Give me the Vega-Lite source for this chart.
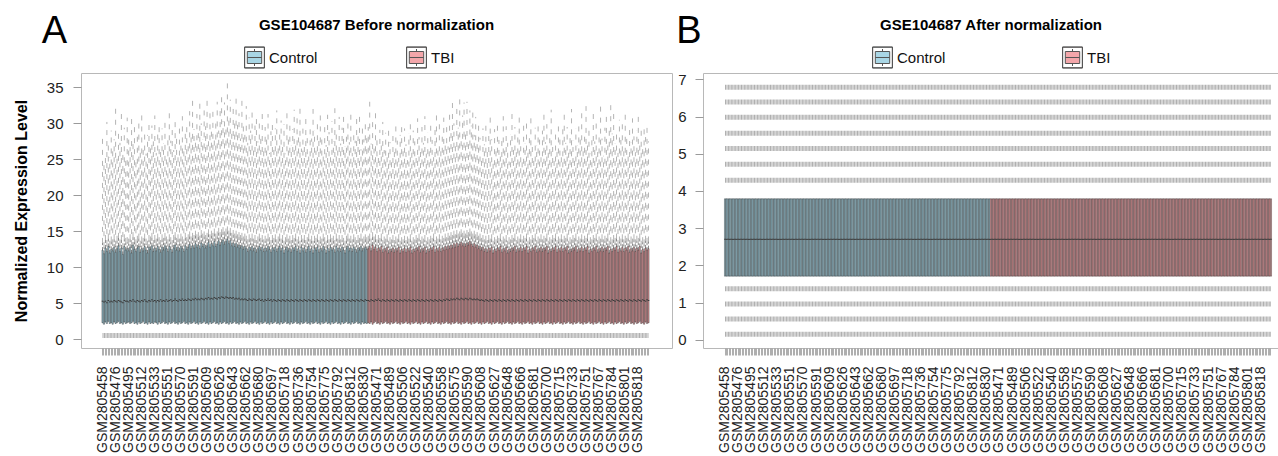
{
"$schema": "https://vega.github.io/schema/vega-lite/v6.json",
"background": "white",
"padding": {"left": 12, "top": 12, "right": 0, "bottom": 0},
"config": {
  "font": "Liberation Sans",
  "view": {"stroke": "#b8b8b8", "strokeWidth": 1},
  "axis": {"grid": false, "domain": false, "tickColor": "#9a9a9a", "labelColor": "#222222", "labelFont": "Liberation Sans", "titleFont": "Liberation Sans"},
  "axisY": {"tickCount": 10, "labelOverlap": false},
  "legend": {"orient": "none", "direction": "horizontal", "title": null, "symbolType": "M-1,-1.05H1V1.05H-1Z M-0.98,-1.03V1.03H0.98V-1.03Z M-0.72,-0.6H0.72V0.6H-0.72Z M-0.72,0H0.72 M0,-0.6V-0.85 M0,0.6V0.85", "symbolSize": 400, "symbolStrokeColor": "#555555", "symbolStrokeWidth": 1, "labelFontSize": 15, "labelColor": "#111111", "labelOffset": 4, "symbolOpacity": 1}
},
"datasets": {
  "bst": [{"g": "Control", "c": 1.71, "n": 2.7, "d": 3.79}, {"g": "TBI", "c": 1.71, "n": 2.7, "d": 3.79}],
  "lvA": [{"s": "GSM2805458", "e": "GSM2805834", "y": 0.55}],
  "lvB": [
    {"s": "GSM2805458", "e": "GSM2805834", "y": 0.15},
    {"s": "GSM2805458", "e": "GSM2805834", "y": 0.56},
    {"s": "GSM2805458", "e": "GSM2805834", "y": 0.96},
    {"s": "GSM2805458", "e": "GSM2805834", "y": 1.37},
    {"s": "GSM2805458", "e": "GSM2805834", "y": 4.29},
    {"s": "GSM2805458", "e": "GSM2805834", "y": 4.72},
    {"s": "GSM2805458", "e": "GSM2805834", "y": 5.14},
    {"s": "GSM2805458", "e": "GSM2805834", "y": 5.55},
    {"s": "GSM2805458", "e": "GSM2805834", "y": 5.98},
    {"s": "GSM2805458", "e": "GSM2805834", "y": 6.39},
    {"s": "GSM2805458", "e": "GSM2805834", "y": 6.79}
  ],
  "main": [
{"s":"GSM2805458","g":"Control","a":2.3,"m":5.3,"b":12.4,"u":13.4,"o":28.0},
{"s":"GSM2805460","g":"Control","a":2.1,"m":5.2,"b":11.9,"u":12.8,"o":24.5},
{"s":"GSM2805462","g":"Control","a":2.4,"m":5.3,"b":12.7,"u":13.8,"o":26.0},
{"s":"GSM2805464","g":"Control","a":2.2,"m":5.1,"b":12.2,"u":13.1,"o":30.2},
{"s":"GSM2805466","g":"Control","a":2.5,"m":5.4,"b":12.9,"u":14.0,"o":27.1},
{"s":"GSM2805468","g":"Control","a":2.2,"m":5.2,"b":12.0,"u":13.0,"o":25.3},
{"s":"GSM2805470","g":"Control","a":2.3,"m":5.3,"b":12.5,"u":13.6,"o":29.0},
{"s":"GSM2805472","g":"Control","a":2.1,"m":5.2,"b":12.3,"u":13.2,"o":26.4},
{"s":"GSM2805474","g":"Control","a":2.4,"m":5.4,"b":12.8,"u":13.9,"o":27.8},
{"s":"GSM2805476","g":"Control","a":2.2,"m":5.3,"b":12.1,"u":13.0,"o":32.3},
{"s":"GSM2805477","g":"Control","a":2.3,"m":5.2,"b":12.6,"u":13.7,"o":25.6},
{"s":"GSM2805479","g":"Control","a":2.5,"m":5.4,"b":13.0,"u":14.1,"o":28.9},
{"s":"GSM2805481","g":"Control","a":2.2,"m":5.3,"b":12.2,"u":13.2,"o":27.3},
{"s":"GSM2805483","g":"Control","a":2.3,"m":5.2,"b":12.7,"u":13.8,"o":31.6},
{"s":"GSM2805485","g":"Control","a":2.1,"m":5.1,"b":11.8,"u":12.7,"o":26.0},
{"s":"GSM2805487","g":"Control","a":2.4,"m":5.4,"b":12.9,"u":13.9,"o":29.4},
{"s":"GSM2805491","g":"Control","a":2.2,"m":5.3,"b":12.4,"u":13.4,"o":25.1},
{"s":"GSM2805493","g":"Control","a":2.3,"m":5.3,"b":12.6,"u":13.5,"o":30.8},
{"s":"GSM2805495","g":"Control","a":2.4,"m":5.2,"b":12.3,"u":13.3,"o":28.2},
{"s":"GSM2805496","g":"Control","a":2.2,"m":5.4,"b":12.8,"u":13.9,"o":26.7},
{"s":"GSM2805498","g":"Control","a":2.3,"m":5.3,"b":12.0,"u":13.1,"o":31.2},
{"s":"GSM2805500","g":"Control","a":2.5,"m":5.5,"b":13.1,"u":14.2,"o":27.9},
{"s":"GSM2805502","g":"Control","a":2.2,"m":5.3,"b":12.5,"u":13.5,"o":29.8},
{"s":"GSM2805504","g":"Control","a":2.3,"m":5.2,"b":12.2,"u":13.2,"o":25.4},
{"s":"GSM2805507","g":"Control","a":2.1,"m":5.4,"b":12.7,"u":13.7,"o":28.6},
{"s":"GSM2805509","g":"Control","a":2.4,"m":5.3,"b":12.9,"u":14.0,"o":30.3},
{"s":"GSM2805511","g":"Control","a":2.2,"m":5.2,"b":12.1,"u":13.0,"o":26.2},
{"s":"GSM2805512","g":"Control","a":2.3,"m":5.4,"b":12.6,"u":13.6,"o":31.8},
{"s":"GSM2805514","g":"Control","a":2.5,"m":5.3,"b":12.3,"u":13.4,"o":27.0},
{"s":"GSM2805517","g":"Control","a":2.2,"m":5.5,"b":12.9,"u":14.0,"o":29.1},
{"s":"GSM2805520","g":"Control","a":2.3,"m":5.3,"b":12.4,"u":13.3,"o":25.8},
{"s":"GSM2805523","g":"Control","a":2.1,"m":5.2,"b":12.0,"u":13.0,"o":28.4},
{"s":"GSM2805525","g":"Control","a":2.4,"m":5.4,"b":12.8,"u":13.8,"o":30.6},
{"s":"GSM2805527","g":"Control","a":2.2,"m":5.3,"b":12.5,"u":13.6,"o":26.9},
{"s":"GSM2805529","g":"Control","a":2.3,"m":5.5,"b":13.0,"u":14.1,"o":29.7},
{"s":"GSM2805531","g":"Control","a":2.2,"m":5.3,"b":12.2,"u":13.1,"o":27.5},
{"s":"GSM2805533","g":"Control","a":2.4,"m":5.4,"b":12.7,"u":13.8,"o":31.1},
{"s":"GSM2805534","g":"Control","a":2.3,"m":5.2,"b":12.3,"u":13.3,"o":25.9},
{"s":"GSM2805536","g":"Control","a":2.1,"m":5.4,"b":12.9,"u":14.0,"o":28.8},
{"s":"GSM2805538","g":"Control","a":2.4,"m":5.3,"b":12.5,"u":13.5,"o":30.1},
{"s":"GSM2805541","g":"Control","a":2.2,"m":5.5,"b":12.1,"u":13.1,"o":26.5},
{"s":"GSM2805543","g":"Control","a":2.3,"m":5.3,"b":12.8,"u":13.9,"o":29.3},
{"s":"GSM2805545","g":"Control","a":2.5,"m":5.4,"b":12.4,"u":13.4,"o":27.2},
{"s":"GSM2805547","g":"Control","a":2.2,"m":5.3,"b":13.0,"u":14.1,"o":30.9},
{"s":"GSM2805549","g":"Control","a":2.3,"m":5.5,"b":12.6,"u":13.6,"o":25.7},
{"s":"GSM2805551","g":"Control","a":2.1,"m":5.3,"b":12.2,"u":13.2,"o":28.1},
{"s":"GSM2805552","g":"Control","a":2.4,"m":5.4,"b":12.9,"u":13.9,"o":31.4},
{"s":"GSM2805554","g":"Control","a":2.2,"m":5.5,"b":12.5,"u":13.5,"o":27.6},
{"s":"GSM2805556","g":"Control","a":2.3,"m":5.3,"b":12.1,"u":13.1,"o":29.5},
{"s":"GSM2805560","g":"Control","a":2.5,"m":5.4,"b":12.7,"u":13.8,"o":26.3},
{"s":"GSM2805562","g":"Control","a":2.2,"m":5.6,"b":13.1,"u":14.2,"o":30.4},
{"s":"GSM2805564","g":"Control","a":2.3,"m":5.4,"b":12.4,"u":13.4,"o":28.0},
{"s":"GSM2805566","g":"Control","a":2.1,"m":5.3,"b":12.8,"u":13.9,"o":25.6},
{"s":"GSM2805568","g":"Control","a":2.4,"m":5.5,"b":12.3,"u":13.3,"o":29.9},
{"s":"GSM2805570","g":"Control","a":2.2,"m":5.4,"b":12.9,"u":14.0,"o":27.4},
{"s":"GSM2805571","g":"Control","a":2.3,"m":5.6,"b":12.6,"u":13.6,"o":31.0},
{"s":"GSM2805573","g":"Control","a":2.5,"m":5.4,"b":12.2,"u":13.2,"o":26.8},
{"s":"GSM2805577","g":"Control","a":2.2,"m":5.5,"b":13.0,"u":14.1,"o":28.7},
{"s":"GSM2805579","g":"Control","a":2.3,"m":5.4,"b":12.5,"u":13.5,"o":30.2},
{"s":"GSM2805582","g":"Control","a":2.1,"m":5.6,"b":12.8,"u":13.9,"o":27.1},
{"s":"GSM2805584","g":"Control","a":2.4,"m":5.5,"b":13.2,"u":14.3,"o":31.7},
{"s":"GSM2805586","g":"Control","a":2.2,"m":5.4,"b":12.6,"u":13.6,"o":28.5},
{"s":"GSM2805588","g":"Control","a":2.3,"m":5.6,"b":13.0,"u":14.1,"o":33.4},
{"s":"GSM2805591","g":"Control","a":2.5,"m":5.5,"b":12.7,"u":13.8,"o":29.2},
{"s":"GSM2805592","g":"Control","a":2.2,"m":5.7,"b":13.3,"u":14.4,"o":27.7},
{"s":"GSM2805594","g":"Control","a":2.3,"m":5.5,"b":12.8,"u":13.9,"o":31.3},
{"s":"GSM2805596","g":"Control","a":2.1,"m":5.6,"b":13.1,"u":14.2,"o":28.9},
{"s":"GSM2805598","g":"Control","a":2.4,"m":5.5,"b":12.6,"u":13.7,"o":33.1},
{"s":"GSM2805600","g":"Control","a":2.2,"m":5.7,"b":13.4,"u":14.5,"o":30.0},
{"s":"GSM2805602","g":"Control","a":2.3,"m":5.6,"b":12.9,"u":14.0,"o":27.8},
{"s":"GSM2805604","g":"Control","a":2.5,"m":5.5,"b":13.2,"u":14.3,"o":32.6},
{"s":"GSM2805606","g":"Control","a":2.2,"m":5.7,"b":12.7,"u":13.8,"o":29.6},
{"s":"GSM2805609","g":"Control","a":2.3,"m":5.6,"b":13.0,"u":14.1,"o":33.6},
{"s":"GSM2805610","g":"Control","a":2.1,"m":5.8,"b":13.5,"u":14.6,"o":28.3},
{"s":"GSM2805612","g":"Control","a":2.4,"m":5.6,"b":12.8,"u":13.9,"o":31.5},
{"s":"GSM2805614","g":"Control","a":2.2,"m":5.7,"b":13.3,"u":14.4,"o":29.4},
{"s":"GSM2805616","g":"Control","a":2.3,"m":5.6,"b":13.0,"u":14.1,"o":32.2},
{"s":"GSM2805618","g":"Control","a":2.5,"m":5.8,"b":13.6,"u":14.7,"o":28.1},
{"s":"GSM2805620","g":"Control","a":2.2,"m":5.7,"b":12.9,"u":14.0,"o":30.7},
{"s":"GSM2805622","g":"Control","a":2.3,"m":5.6,"b":13.2,"u":14.3,"o":33.0},
{"s":"GSM2805624","g":"Control","a":2.1,"m":5.8,"b":13.7,"u":14.8,"o":29.0},
{"s":"GSM2805626","g":"Control","a":2.4,"m":5.7,"b":13.1,"u":14.2,"o":31.9},
{"s":"GSM2805628","g":"Control","a":2.2,"m":5.9,"b":13.5,"u":14.6,"o":33.8},
{"s":"GSM2805630","g":"Control","a":2.3,"m":5.8,"b":13.8,"u":14.9,"o":30.3},
{"s":"GSM2805632","g":"Control","a":2.5,"m":5.7,"b":13.2,"u":14.3,"o":32.9},
{"s":"GSM2805634","g":"Control","a":2.2,"m":5.9,"b":13.6,"u":14.7,"o":29.3},
{"s":"GSM2805636","g":"Control","a":2.3,"m":5.8,"b":13.9,"u":15.0,"o":35.6},
{"s":"GSM2805638","g":"Control","a":2.1,"m":5.7,"b":13.3,"u":14.4,"o":31.2},
{"s":"GSM2805640","g":"Control","a":2.4,"m":5.8,"b":13.7,"u":14.8,"o":33.3},
{"s":"GSM2805642","g":"Control","a":2.2,"m":5.7,"b":13.0,"u":14.1,"o":28.6},
{"s":"GSM2805643","g":"Control","a":2.3,"m":5.8,"b":13.4,"u":14.5,"o":32.5},
{"s":"GSM2805644","g":"Control","a":2.5,"m":5.6,"b":12.9,"u":14.0,"o":30.5},
{"s":"GSM2805645","g":"Control","a":2.2,"m":5.7,"b":13.3,"u":14.4,"o":34.0},
{"s":"GSM2805647","g":"Control","a":2.3,"m":5.6,"b":12.8,"u":13.9,"o":29.8},
{"s":"GSM2805650","g":"Control","a":2.1,"m":5.7,"b":13.1,"u":14.2,"o":31.4},
{"s":"GSM2805653","g":"Control","a":2.4,"m":5.5,"b":12.7,"u":13.8,"o":27.9},
{"s":"GSM2805655","g":"Control","a":2.2,"m":5.6,"b":13.0,"u":14.1,"o":33.2},
{"s":"GSM2805657","g":"Control","a":2.3,"m":5.5,"b":12.5,"u":13.6,"o":30.1},
{"s":"GSM2805660","g":"Control","a":2.5,"m":5.6,"b":12.9,"u":14.0,"o":28.4},
{"s":"GSM2805662","g":"Control","a":2.2,"m":5.5,"b":12.6,"u":13.7,"o":32.4},
{"s":"GSM2805663","g":"Control","a":2.3,"m":5.4,"b":12.2,"u":13.2,"o":27.3},
{"s":"GSM2805664","g":"Control","a":2.1,"m":5.6,"b":12.8,"u":13.9,"o":30.8},
{"s":"GSM2805665","g":"Control","a":2.4,"m":5.5,"b":12.4,"u":13.4,"o":29.0},
{"s":"GSM2805668","g":"Control","a":2.2,"m":5.4,"b":12.9,"u":14.0,"o":31.9},
{"s":"GSM2805671","g":"Control","a":2.3,"m":5.6,"b":12.3,"u":13.3,"o":26.7},
{"s":"GSM2805673","g":"Control","a":2.5,"m":5.5,"b":12.7,"u":13.8,"o":29.7},
{"s":"GSM2805675","g":"Control","a":2.2,"m":5.4,"b":12.1,"u":13.1,"o":31.1},
{"s":"GSM2805678","g":"Control","a":2.3,"m":5.5,"b":12.6,"u":13.6,"o":27.5},
{"s":"GSM2805680","g":"Control","a":2.1,"m":5.6,"b":12.9,"u":14.0,"o":30.0},
{"s":"GSM2805682","g":"Control","a":2.4,"m":5.4,"b":12.4,"u":13.4,"o":28.2},
{"s":"GSM2805684","g":"Control","a":2.2,"m":5.5,"b":12.8,"u":13.8,"o":31.6},
{"s":"GSM2805686","g":"Control","a":2.3,"m":5.3,"b":12.2,"u":13.2,"o":26.4},
{"s":"GSM2805688","g":"Control","a":2.5,"m":5.5,"b":12.7,"u":13.7,"o":29.5},
{"s":"GSM2805690","g":"Control","a":2.2,"m":5.4,"b":12.3,"u":13.3,"o":27.8},
{"s":"GSM2805692","g":"Control","a":2.3,"m":5.6,"b":12.9,"u":14.0,"o":31.3},
{"s":"GSM2805694","g":"Control","a":2.1,"m":5.4,"b":12.5,"u":13.5,"o":25.9},
{"s":"GSM2805696","g":"Control","a":2.4,"m":5.5,"b":12.1,"u":13.1,"o":28.9},
{"s":"GSM2805697","g":"Control","a":2.2,"m":5.3,"b":12.7,"u":13.8,"o":30.6},
{"s":"GSM2805698","g":"Control","a":2.3,"m":5.5,"b":12.4,"u":13.4,"o":27.1},
{"s":"GSM2805702","g":"Control","a":2.5,"m":5.4,"b":12.8,"u":13.9,"o":29.3},
{"s":"GSM2805704","g":"Control","a":2.2,"m":5.3,"b":12.2,"u":13.2,"o":31.8},
{"s":"GSM2805706","g":"Control","a":2.3,"m":5.5,"b":12.6,"u":13.6,"o":26.6},
{"s":"GSM2805708","g":"Control","a":2.1,"m":5.4,"b":12.9,"u":14.0,"o":28.7},
{"s":"GSM2805710","g":"Control","a":2.4,"m":5.3,"b":12.3,"u":13.3,"o":30.4},
{"s":"GSM2805712","g":"Control","a":2.2,"m":5.5,"b":12.7,"u":13.8,"o":27.4},
{"s":"GSM2805716","g":"Control","a":2.3,"m":5.4,"b":12.0,"u":13.0,"o":29.9},
{"s":"GSM2805718","g":"Control","a":2.5,"m":5.3,"b":12.5,"u":13.5,"o":25.8},
{"s":"GSM2805719","g":"Control","a":2.2,"m":5.5,"b":12.8,"u":13.9,"o":31.5},
{"s":"GSM2805721","g":"Control","a":2.3,"m":5.4,"b":12.3,"u":13.3,"o":28.0},
{"s":"GSM2805723","g":"Control","a":2.1,"m":5.3,"b":12.6,"u":13.7,"o":30.2},
{"s":"GSM2805725","g":"Control","a":2.4,"m":5.5,"b":12.1,"u":13.1,"o":26.9},
{"s":"GSM2805727","g":"Control","a":2.2,"m":5.4,"b":12.7,"u":13.8,"o":29.2},
{"s":"GSM2805729","g":"Control","a":2.3,"m":5.3,"b":12.4,"u":13.4,"o":31.9},
{"s":"GSM2805731","g":"Control","a":2.5,"m":5.5,"b":12.9,"u":14.0,"o":27.6},
{"s":"GSM2805734","g":"Control","a":2.2,"m":5.4,"b":12.2,"u":13.2,"o":30.7},
{"s":"GSM2805736","g":"Control","a":2.3,"m":5.3,"b":12.6,"u":13.6,"o":28.3},
{"s":"GSM2805737","g":"Control","a":2.1,"m":5.5,"b":12.0,"u":13.0,"o":32.3},
{"s":"GSM2805739","g":"Control","a":2.4,"m":5.4,"b":12.8,"u":13.8,"o":26.5},
{"s":"GSM2805741","g":"Control","a":2.2,"m":5.3,"b":12.3,"u":13.3,"o":29.6},
{"s":"GSM2805743","g":"Control","a":2.3,"m":5.5,"b":12.7,"u":13.8,"o":27.3},
{"s":"GSM2805745","g":"Control","a":2.5,"m":5.4,"b":12.1,"u":13.1,"o":31.0},
{"s":"GSM2805747","g":"Control","a":2.2,"m":5.3,"b":12.5,"u":13.5,"o":28.6},
{"s":"GSM2805749","g":"Control","a":2.3,"m":5.5,"b":12.9,"u":14.0,"o":25.7},
{"s":"GSM2805752","g":"Control","a":2.1,"m":5.4,"b":12.2,"u":13.2,"o":30.0},
{"s":"GSM2805754","g":"Control","a":2.4,"m":5.3,"b":12.6,"u":13.7,"o":27.9},
{"s":"GSM2805756","g":"Control","a":2.2,"m":5.5,"b":12.0,"u":13.0,"o":32.0},
{"s":"GSM2805758","g":"Control","a":2.3,"m":5.4,"b":12.7,"u":13.7,"o":29.0},
{"s":"GSM2805760","g":"Control","a":2.5,"m":5.3,"b":12.4,"u":13.4,"o":26.2},
{"s":"GSM2805762","g":"Control","a":2.2,"m":5.5,"b":12.8,"u":13.9,"o":30.5},
{"s":"GSM2805764","g":"Control","a":2.3,"m":5.4,"b":12.1,"u":13.1,"o":27.7},
{"s":"GSM2805769","g":"Control","a":2.1,"m":5.3,"b":12.6,"u":13.6,"o":31.4},
{"s":"GSM2805771","g":"Control","a":2.4,"m":5.5,"b":12.3,"u":13.3,"o":28.4},
{"s":"GSM2805773","g":"Control","a":2.2,"m":5.4,"b":12.9,"u":14.0,"o":25.5},
{"s":"GSM2805775","g":"Control","a":2.3,"m":5.3,"b":12.5,"u":13.5,"o":29.8},
{"s":"GSM2805776","g":"Control","a":2.5,"m":5.5,"b":12.0,"u":13.0,"o":27.0},
{"s":"GSM2805778","g":"Control","a":2.2,"m":5.4,"b":12.7,"u":13.8,"o":31.2},
{"s":"GSM2805780","g":"Control","a":2.3,"m":5.3,"b":12.2,"u":13.2,"o":28.8},
{"s":"GSM2805782","g":"Control","a":2.1,"m":5.5,"b":12.8,"u":13.9,"o":26.1},
{"s":"GSM2805785","g":"Control","a":2.4,"m":5.4,"b":12.4,"u":13.4,"o":30.3},
{"s":"GSM2805787","g":"Control","a":2.2,"m":5.3,"b":12.6,"u":13.7,"o":27.5},
{"s":"GSM2805789","g":"Control","a":2.3,"m":5.5,"b":12.1,"u":13.1,"o":32.1},
{"s":"GSM2805791","g":"Control","a":2.5,"m":5.4,"b":12.9,"u":14.0,"o":28.9},
{"s":"GSM2805792","g":"Control","a":2.2,"m":5.3,"b":12.3,"u":13.3,"o":26.6},
{"s":"GSM2805794","g":"Control","a":2.3,"m":5.5,"b":12.7,"u":13.8,"o":30.9},
{"s":"GSM2805797","g":"Control","a":2.1,"m":5.4,"b":12.2,"u":13.2,"o":27.2},
{"s":"GSM2805799","g":"Control","a":2.4,"m":5.3,"b":12.8,"u":13.8,"o":29.4},
{"s":"GSM2805802","g":"Control","a":2.2,"m":5.5,"b":12.4,"u":13.4,"o":31.6},
{"s":"GSM2805804","g":"Control","a":2.3,"m":5.4,"b":12.0,"u":13.0,"o":26.8},
{"s":"GSM2805806","g":"Control","a":2.5,"m":5.3,"b":12.6,"u":13.7,"o":28.5},
{"s":"GSM2805808","g":"Control","a":2.2,"m":5.5,"b":12.9,"u":14.0,"o":30.6},
{"s":"GSM2805810","g":"Control","a":2.3,"m":5.4,"b":12.3,"u":13.3,"o":27.4},
{"s":"GSM2805812","g":"Control","a":2.1,"m":5.3,"b":12.7,"u":13.7,"o":31.5},
{"s":"GSM2805814","g":"Control","a":2.4,"m":5.5,"b":12.2,"u":13.2,"o":25.9},
{"s":"GSM2805816","g":"Control","a":2.2,"m":5.4,"b":12.8,"u":13.9,"o":29.1},
{"s":"GSM2805819","g":"Control","a":2.3,"m":5.3,"b":12.5,"u":13.5,"o":27.6},
{"s":"GSM2805821","g":"Control","a":2.5,"m":5.5,"b":12.1,"u":13.1,"o":30.8},
{"s":"GSM2805823","g":"Control","a":2.2,"m":5.4,"b":12.7,"u":13.8,"o":28.2},
{"s":"GSM2805825","g":"Control","a":2.3,"m":5.3,"b":12.4,"u":13.4,"o":31.3},
{"s":"GSM2805827","g":"Control","a":2.1,"m":5.5,"b":12.9,"u":14.0,"o":26.4},
{"s":"GSM2805829","g":"Control","a":2.4,"m":5.4,"b":12.3,"u":13.3,"o":29.7},
{"s":"GSM2805830","g":"Control","a":2.2,"m":5.3,"b":12.6,"u":13.6,"o":27.8},
{"s":"GSM2805831","g":"Control","a":2.3,"m":5.5,"b":12.8,"u":13.9,"o":30.1},
{"s":"GSM2805833","g":"Control","a":2.2,"m":5.4,"b":12.5,"u":13.5,"o":28.0},
{"s":"GSM2805459","g":"TBI","a":2.3,"m":5.4,"b":12.6,"u":13.7,"o":29.5},
{"s":"GSM2805461","g":"TBI","a":2.2,"m":5.3,"b":12.9,"u":14.0,"o":33.0},
{"s":"GSM2805463","g":"TBI","a":2.4,"m":5.5,"b":12.3,"u":13.3,"o":27.2},
{"s":"GSM2805465","g":"TBI","a":2.1,"m":5.4,"b":13.1,"u":14.2,"o":30.6},
{"s":"GSM2805467","g":"TBI","a":2.3,"m":5.3,"b":12.5,"u":13.6,"o":26.5},
{"s":"GSM2805469","g":"TBI","a":2.5,"m":5.5,"b":12.8,"u":13.9,"o":31.8},
{"s":"GSM2805471","g":"TBI","a":2.2,"m":5.4,"b":12.2,"u":13.2,"o":28.3},
{"s":"GSM2805473","g":"TBI","a":2.3,"m":5.6,"b":12.7,"u":13.8,"o":25.9},
{"s":"GSM2805475","g":"TBI","a":2.1,"m":5.4,"b":12.4,"u":13.4,"o":29.1},
{"s":"GSM2805478","g":"TBI","a":2.4,"m":5.3,"b":12.9,"u":14.0,"o":27.0},
{"s":"GSM2805480","g":"TBI","a":2.2,"m":5.5,"b":12.1,"u":13.1,"o":30.2},
{"s":"GSM2805482","g":"TBI","a":2.3,"m":5.4,"b":12.6,"u":13.6,"o":26.3},
{"s":"GSM2805484","g":"TBI","a":2.5,"m":5.3,"b":12.3,"u":13.3,"o":28.7},
{"s":"GSM2805486","g":"TBI","a":2.2,"m":5.5,"b":12.8,"u":13.9,"o":25.4},
{"s":"GSM2805488","g":"TBI","a":2.3,"m":5.4,"b":12.0,"u":13.0,"o":29.6},
{"s":"GSM2805489","g":"TBI","a":2.1,"m":5.3,"b":12.5,"u":13.5,"o":27.4},
{"s":"GSM2805490","g":"TBI","a":2.4,"m":5.5,"b":12.2,"u":13.2,"o":24.8},
{"s":"GSM2805492","g":"TBI","a":2.2,"m":5.4,"b":12.7,"u":13.8,"o":28.9},
{"s":"GSM2805494","g":"TBI","a":2.3,"m":5.3,"b":12.1,"u":13.1,"o":26.1},
{"s":"GSM2805497","g":"TBI","a":2.5,"m":5.5,"b":12.6,"u":13.6,"o":29.8},
{"s":"GSM2805499","g":"TBI","a":2.2,"m":5.4,"b":12.3,"u":13.3,"o":27.6},
{"s":"GSM2805501","g":"TBI","a":2.3,"m":5.3,"b":12.8,"u":13.9,"o":25.2},
{"s":"GSM2805503","g":"TBI","a":2.1,"m":5.5,"b":12.0,"u":13.0,"o":28.4},
{"s":"GSM2805505","g":"TBI","a":2.4,"m":5.4,"b":12.5,"u":13.5,"o":30.1},
{"s":"GSM2805506","g":"TBI","a":2.2,"m":5.3,"b":12.2,"u":13.2,"o":26.7},
{"s":"GSM2805508","g":"TBI","a":2.3,"m":5.5,"b":12.7,"u":13.7,"o":29.3},
{"s":"GSM2805510","g":"TBI","a":2.5,"m":5.4,"b":12.1,"u":13.1,"o":27.1},
{"s":"GSM2805513","g":"TBI","a":2.2,"m":5.3,"b":12.6,"u":13.6,"o":24.9},
{"s":"GSM2805515","g":"TBI","a":2.3,"m":5.5,"b":12.3,"u":13.3,"o":28.6},
{"s":"GSM2805516","g":"TBI","a":2.1,"m":5.4,"b":12.8,"u":13.9,"o":30.4},
{"s":"GSM2805518","g":"TBI","a":2.4,"m":5.3,"b":12.0,"u":13.0,"o":26.0},
{"s":"GSM2805519","g":"TBI","a":2.2,"m":5.5,"b":12.5,"u":13.5,"o":29.0},
{"s":"GSM2805521","g":"TBI","a":2.3,"m":5.4,"b":12.2,"u":13.2,"o":27.5},
{"s":"GSM2805522","g":"TBI","a":2.5,"m":5.3,"b":12.7,"u":13.8,"o":25.6},
{"s":"GSM2805524","g":"TBI","a":2.2,"m":5.5,"b":12.4,"u":13.4,"o":30.7},
{"s":"GSM2805526","g":"TBI","a":2.3,"m":5.4,"b":12.9,"u":14.0,"o":28.1},
{"s":"GSM2805528","g":"TBI","a":2.1,"m":5.3,"b":12.1,"u":13.1,"o":26.4},
{"s":"GSM2805530","g":"TBI","a":2.4,"m":5.5,"b":12.6,"u":13.6,"o":29.5},
{"s":"GSM2805532","g":"TBI","a":2.2,"m":5.4,"b":12.3,"u":13.3,"o":27.3},
{"s":"GSM2805535","g":"TBI","a":2.3,"m":5.3,"b":12.8,"u":13.8,"o":31.0},
{"s":"GSM2805537","g":"TBI","a":2.5,"m":5.5,"b":12.0,"u":13.0,"o":25.8},
{"s":"GSM2805539","g":"TBI","a":2.2,"m":5.4,"b":12.5,"u":13.5,"o":28.8},
{"s":"GSM2805540","g":"TBI","a":2.3,"m":5.3,"b":12.2,"u":13.2,"o":26.9},
{"s":"GSM2805542","g":"TBI","a":2.1,"m":5.5,"b":12.7,"u":13.7,"o":30.3},
{"s":"GSM2805544","g":"TBI","a":2.4,"m":5.4,"b":12.4,"u":13.4,"o":27.7},
{"s":"GSM2805546","g":"TBI","a":2.2,"m":5.3,"b":12.9,"u":14.0,"o":25.3},
{"s":"GSM2805548","g":"TBI","a":2.3,"m":5.5,"b":12.1,"u":13.1,"o":29.2},
{"s":"GSM2805550","g":"TBI","a":2.5,"m":5.4,"b":12.6,"u":13.6,"o":31.2},
{"s":"GSM2805553","g":"TBI","a":2.2,"m":5.3,"b":12.3,"u":13.3,"o":27.0},
{"s":"GSM2805555","g":"TBI","a":2.3,"m":5.5,"b":12.8,"u":13.9,"o":29.9},
{"s":"GSM2805557","g":"TBI","a":2.1,"m":5.4,"b":12.2,"u":13.2,"o":26.2},
{"s":"GSM2805558","g":"TBI","a":2.4,"m":5.3,"b":12.7,"u":13.7,"o":28.5},
{"s":"GSM2805559","g":"TBI","a":2.2,"m":5.5,"b":12.4,"u":13.4,"o":30.8},
{"s":"GSM2805561","g":"TBI","a":2.3,"m":5.4,"b":12.9,"u":14.0,"o":27.4},
{"s":"GSM2805563","g":"TBI","a":2.5,"m":5.6,"b":12.5,"u":13.5,"o":29.6},
{"s":"GSM2805565","g":"TBI","a":2.2,"m":5.5,"b":13.0,"u":14.1,"o":26.8},
{"s":"GSM2805567","g":"TBI","a":2.3,"m":5.4,"b":12.6,"u":13.7,"o":31.5},
{"s":"GSM2805569","g":"TBI","a":2.1,"m":5.6,"b":13.1,"u":14.2,"o":28.7},
{"s":"GSM2805572","g":"TBI","a":2.4,"m":5.5,"b":12.7,"u":13.8,"o":33.2},
{"s":"GSM2805574","g":"TBI","a":2.2,"m":5.6,"b":13.3,"u":14.4,"o":30.0},
{"s":"GSM2805575","g":"TBI","a":2.3,"m":5.5,"b":12.8,"u":13.9,"o":27.6},
{"s":"GSM2805576","g":"TBI","a":2.5,"m":5.7,"b":13.4,"u":14.5,"o":32.5},
{"s":"GSM2805578","g":"TBI","a":2.2,"m":5.6,"b":12.9,"u":14.0,"o":29.4},
{"s":"GSM2805580","g":"TBI","a":2.3,"m":5.5,"b":13.2,"u":14.3,"o":33.5},
{"s":"GSM2805581","g":"TBI","a":2.1,"m":5.7,"b":13.5,"u":14.6,"o":28.2},
{"s":"GSM2805583","g":"TBI","a":2.4,"m":5.6,"b":13.0,"u":14.1,"o":31.1},
{"s":"GSM2805585","g":"TBI","a":2.2,"m":5.5,"b":13.3,"u":14.4,"o":32.9},
{"s":"GSM2805587","g":"TBI","a":2.3,"m":5.7,"b":12.9,"u":14.0,"o":29.0},
{"s":"GSM2805589","g":"TBI","a":2.5,"m":5.6,"b":13.4,"u":14.5,"o":33.0},
{"s":"GSM2805590","g":"TBI","a":2.2,"m":5.5,"b":13.1,"u":14.2,"o":27.9},
{"s":"GSM2805593","g":"TBI","a":2.3,"m":5.7,"b":13.6,"u":14.7,"o":31.8},
{"s":"GSM2805595","g":"TBI","a":2.1,"m":5.6,"b":13.2,"u":14.3,"o":29.7},
{"s":"GSM2805597","g":"TBI","a":2.4,"m":5.5,"b":12.9,"u":14.0,"o":32.3},
{"s":"GSM2805599","g":"TBI","a":2.2,"m":5.6,"b":13.3,"u":14.4,"o":28.4},
{"s":"GSM2805601","g":"TBI","a":2.3,"m":5.5,"b":12.8,"u":13.9,"o":30.9},
{"s":"GSM2805603","g":"TBI","a":2.5,"m":5.6,"b":13.1,"u":14.2,"o":27.2},
{"s":"GSM2805605","g":"TBI","a":2.2,"m":5.5,"b":12.6,"u":13.7,"o":30.2},
{"s":"GSM2805607","g":"TBI","a":2.3,"m":5.4,"b":12.9,"u":14.0,"o":28.0},
{"s":"GSM2805608","g":"TBI","a":2.1,"m":5.5,"b":12.4,"u":13.4,"o":25.5},
{"s":"GSM2805611","g":"TBI","a":2.4,"m":5.4,"b":12.8,"u":13.8,"o":29.3},
{"s":"GSM2805613","g":"TBI","a":2.2,"m":5.3,"b":12.2,"u":13.2,"o":27.1},
{"s":"GSM2805615","g":"TBI","a":2.3,"m":5.5,"b":12.6,"u":13.7,"o":30.5},
{"s":"GSM2805617","g":"TBI","a":2.5,"m":5.4,"b":12.1,"u":13.1,"o":26.6},
{"s":"GSM2805619","g":"TBI","a":2.2,"m":5.3,"b":12.7,"u":13.8,"o":28.8},
{"s":"GSM2805621","g":"TBI","a":2.3,"m":5.5,"b":12.3,"u":13.3,"o":31.4},
{"s":"GSM2805623","g":"TBI","a":2.1,"m":5.4,"b":12.8,"u":13.9,"o":27.8},
{"s":"GSM2805625","g":"TBI","a":2.4,"m":5.3,"b":12.0,"u":13.0,"o":25.1},
{"s":"GSM2805627","g":"TBI","a":2.2,"m":5.5,"b":12.5,"u":13.5,"o":29.2},
{"s":"GSM2805629","g":"TBI","a":2.3,"m":5.4,"b":12.2,"u":13.2,"o":26.5},
{"s":"GSM2805631","g":"TBI","a":2.5,"m":5.3,"b":12.7,"u":13.7,"o":30.1},
{"s":"GSM2805633","g":"TBI","a":2.2,"m":5.5,"b":12.4,"u":13.4,"o":27.7},
{"s":"GSM2805635","g":"TBI","a":2.3,"m":5.4,"b":12.9,"u":14.0,"o":25.7},
{"s":"GSM2805637","g":"TBI","a":2.1,"m":5.3,"b":12.1,"u":13.1,"o":28.3},
{"s":"GSM2805639","g":"TBI","a":2.4,"m":5.5,"b":12.6,"u":13.6,"o":31.0},
{"s":"GSM2805641","g":"TBI","a":2.2,"m":5.4,"b":12.3,"u":13.3,"o":26.8},
{"s":"GSM2805646","g":"TBI","a":2.3,"m":5.3,"b":12.8,"u":13.8,"o":29.6},
{"s":"GSM2805648","g":"TBI","a":2.5,"m":5.5,"b":12.0,"u":13.0,"o":27.3},
{"s":"GSM2805649","g":"TBI","a":2.2,"m":5.4,"b":12.5,"u":13.5,"o":24.7},
{"s":"GSM2805651","g":"TBI","a":2.3,"m":5.3,"b":12.2,"u":13.2,"o":28.5},
{"s":"GSM2805652","g":"TBI","a":2.1,"m":5.5,"b":12.7,"u":13.8,"o":31.3},
{"s":"GSM2805654","g":"TBI","a":2.4,"m":5.4,"b":12.4,"u":13.4,"o":27.0},
{"s":"GSM2805656","g":"TBI","a":2.2,"m":5.3,"b":12.9,"u":14.0,"o":29.5},
{"s":"GSM2805658","g":"TBI","a":2.3,"m":5.5,"b":12.1,"u":13.1,"o":26.0},
{"s":"GSM2805659","g":"TBI","a":2.5,"m":5.4,"b":12.6,"u":13.6,"o":28.9},
{"s":"GSM2805661","g":"TBI","a":2.2,"m":5.3,"b":12.3,"u":13.3,"o":31.5},
{"s":"GSM2805666","g":"TBI","a":2.3,"m":5.5,"b":12.8,"u":13.9,"o":27.6},
{"s":"GSM2805667","g":"TBI","a":2.1,"m":5.4,"b":12.2,"u":13.2,"o":25.4},
{"s":"GSM2805669","g":"TBI","a":2.4,"m":5.3,"b":12.7,"u":13.7,"o":29.8},
{"s":"GSM2805670","g":"TBI","a":2.2,"m":5.5,"b":12.4,"u":13.4,"o":27.2},
{"s":"GSM2805672","g":"TBI","a":2.3,"m":5.4,"b":12.9,"u":14.0,"o":30.6},
{"s":"GSM2805674","g":"TBI","a":2.5,"m":5.3,"b":12.0,"u":13.0,"o":26.3},
{"s":"GSM2805676","g":"TBI","a":2.2,"m":5.5,"b":12.5,"u":13.5,"o":28.6},
{"s":"GSM2805677","g":"TBI","a":2.3,"m":5.4,"b":12.2,"u":13.2,"o":31.1},
{"s":"GSM2805679","g":"TBI","a":2.1,"m":5.3,"b":12.7,"u":13.8,"o":27.5},
{"s":"GSM2805681","g":"TBI","a":2.4,"m":5.5,"b":12.4,"u":13.4,"o":25.0},
{"s":"GSM2805683","g":"TBI","a":2.2,"m":5.4,"b":12.9,"u":14.0,"o":29.4},
{"s":"GSM2805685","g":"TBI","a":2.3,"m":5.3,"b":12.1,"u":13.1,"o":26.9},
{"s":"GSM2805687","g":"TBI","a":2.5,"m":5.5,"b":12.6,"u":13.6,"o":30.3},
{"s":"GSM2805689","g":"TBI","a":2.2,"m":5.4,"b":12.3,"u":13.3,"o":27.9},
{"s":"GSM2805691","g":"TBI","a":2.3,"m":5.3,"b":12.8,"u":13.9,"o":25.3},
{"s":"GSM2805693","g":"TBI","a":2.1,"m":5.5,"b":12.2,"u":13.2,"o":29.0},
{"s":"GSM2805695","g":"TBI","a":2.4,"m":5.4,"b":12.7,"u":13.7,"o":31.7},
{"s":"GSM2805699","g":"TBI","a":2.2,"m":5.3,"b":12.4,"u":13.4,"o":27.4},
{"s":"GSM2805700","g":"TBI","a":2.3,"m":5.5,"b":12.9,"u":14.0,"o":29.9},
{"s":"GSM2805701","g":"TBI","a":2.5,"m":5.4,"b":12.0,"u":13.0,"o":26.1},
{"s":"GSM2805703","g":"TBI","a":2.2,"m":5.3,"b":12.5,"u":13.5,"o":28.7},
{"s":"GSM2805705","g":"TBI","a":2.3,"m":5.5,"b":12.2,"u":13.2,"o":31.9},
{"s":"GSM2805707","g":"TBI","a":2.1,"m":5.4,"b":12.7,"u":13.8,"o":27.0},
{"s":"GSM2805709","g":"TBI","a":2.4,"m":5.3,"b":12.4,"u":13.4,"o":24.9},
{"s":"GSM2805711","g":"TBI","a":2.2,"m":5.5,"b":12.9,"u":14.0,"o":29.1},
{"s":"GSM2805713","g":"TBI","a":2.3,"m":5.4,"b":12.1,"u":13.1,"o":26.7},
{"s":"GSM2805714","g":"TBI","a":2.5,"m":5.3,"b":12.6,"u":13.6,"o":30.4},
{"s":"GSM2805715","g":"TBI","a":2.2,"m":5.5,"b":12.3,"u":13.3,"o":28.1},
{"s":"GSM2805717","g":"TBI","a":2.3,"m":5.4,"b":12.8,"u":13.9,"o":25.6},
{"s":"GSM2805720","g":"TBI","a":2.1,"m":5.3,"b":12.2,"u":13.2,"o":29.7},
{"s":"GSM2805722","g":"TBI","a":2.4,"m":5.5,"b":12.7,"u":13.7,"o":31.2},
{"s":"GSM2805724","g":"TBI","a":2.2,"m":5.4,"b":12.4,"u":13.4,"o":27.3},
{"s":"GSM2805726","g":"TBI","a":2.3,"m":5.3,"b":12.9,"u":14.0,"o":29.5},
{"s":"GSM2805728","g":"TBI","a":2.5,"m":5.5,"b":12.0,"u":13.0,"o":26.4},
{"s":"GSM2805730","g":"TBI","a":2.2,"m":5.4,"b":12.5,"u":13.5,"o":28.8},
{"s":"GSM2805732","g":"TBI","a":2.3,"m":5.3,"b":12.2,"u":13.2,"o":32.0},
{"s":"GSM2805733","g":"TBI","a":2.1,"m":5.5,"b":12.7,"u":13.8,"o":27.6},
{"s":"GSM2805735","g":"TBI","a":2.4,"m":5.4,"b":12.4,"u":13.4,"o":25.2},
{"s":"GSM2805738","g":"TBI","a":2.2,"m":5.3,"b":12.9,"u":14.0,"o":29.3},
{"s":"GSM2805740","g":"TBI","a":2.3,"m":5.5,"b":12.1,"u":13.1,"o":26.9},
{"s":"GSM2805742","g":"TBI","a":2.5,"m":5.4,"b":12.6,"u":13.6,"o":30.0},
{"s":"GSM2805744","g":"TBI","a":2.2,"m":5.3,"b":12.3,"u":13.3,"o":27.8},
{"s":"GSM2805746","g":"TBI","a":2.3,"m":5.5,"b":12.8,"u":13.9,"o":31.6},
{"s":"GSM2805748","g":"TBI","a":2.1,"m":5.4,"b":12.2,"u":13.2,"o":26.2},
{"s":"GSM2805750","g":"TBI","a":2.4,"m":5.3,"b":12.7,"u":13.7,"o":28.9},
{"s":"GSM2805751","g":"TBI","a":2.2,"m":5.5,"b":12.4,"u":13.4,"o":32.4},
{"s":"GSM2805753","g":"TBI","a":2.3,"m":5.4,"b":12.9,"u":14.0,"o":27.1},
{"s":"GSM2805755","g":"TBI","a":2.5,"m":5.3,"b":12.0,"u":13.0,"o":29.6},
{"s":"GSM2805757","g":"TBI","a":2.2,"m":5.5,"b":12.5,"u":13.5,"o":25.8},
{"s":"GSM2805759","g":"TBI","a":2.3,"m":5.4,"b":12.2,"u":13.2,"o":28.4},
{"s":"GSM2805761","g":"TBI","a":2.1,"m":5.3,"b":12.7,"u":13.8,"o":31.3},
{"s":"GSM2805763","g":"TBI","a":2.4,"m":5.5,"b":12.4,"u":13.4,"o":27.5},
{"s":"GSM2805765","g":"TBI","a":2.2,"m":5.4,"b":12.9,"u":14.0,"o":30.2},
{"s":"GSM2805766","g":"TBI","a":2.3,"m":5.3,"b":12.1,"u":13.1,"o":26.5},
{"s":"GSM2805767","g":"TBI","a":2.5,"m":5.5,"b":12.6,"u":13.6,"o":28.7},
{"s":"GSM2805768","g":"TBI","a":2.2,"m":5.4,"b":12.3,"u":13.3,"o":32.6},
{"s":"GSM2805770","g":"TBI","a":2.3,"m":5.3,"b":12.8,"u":13.9,"o":27.9},
{"s":"GSM2805772","g":"TBI","a":2.1,"m":5.5,"b":12.2,"u":13.2,"o":25.5},
{"s":"GSM2805774","g":"TBI","a":2.4,"m":5.4,"b":12.7,"u":13.7,"o":29.4},
{"s":"GSM2805777","g":"TBI","a":2.2,"m":5.3,"b":12.4,"u":13.4,"o":31.0},
{"s":"GSM2805779","g":"TBI","a":2.3,"m":5.5,"b":12.9,"u":14.0,"o":27.0},
{"s":"GSM2805781","g":"TBI","a":2.5,"m":5.4,"b":12.0,"u":13.0,"o":29.8},
{"s":"GSM2805783","g":"TBI","a":2.2,"m":5.3,"b":12.5,"u":13.5,"o":32.7},
{"s":"GSM2805784","g":"TBI","a":2.3,"m":5.5,"b":12.2,"u":13.2,"o":28.6},
{"s":"GSM2805786","g":"TBI","a":2.1,"m":5.4,"b":12.7,"u":13.8,"o":31.8},
{"s":"GSM2805788","g":"TBI","a":2.4,"m":5.3,"b":12.4,"u":13.4,"o":27.2},
{"s":"GSM2805790","g":"TBI","a":2.2,"m":5.5,"b":12.9,"u":14.0,"o":29.1},
{"s":"GSM2805793","g":"TBI","a":2.3,"m":5.4,"b":12.1,"u":13.1,"o":25.9},
{"s":"GSM2805795","g":"TBI","a":2.5,"m":5.3,"b":12.6,"u":13.6,"o":30.5},
{"s":"GSM2805796","g":"TBI","a":2.2,"m":5.5,"b":12.3,"u":13.3,"o":27.7},
{"s":"GSM2805798","g":"TBI","a":2.3,"m":5.4,"b":12.8,"u":13.9,"o":29.9},
{"s":"GSM2805800","g":"TBI","a":2.1,"m":5.3,"b":12.2,"u":13.2,"o":26.6},
{"s":"GSM2805801","g":"TBI","a":2.4,"m":5.5,"b":12.7,"u":13.7,"o":31.4},
{"s":"GSM2805803","g":"TBI","a":2.2,"m":5.4,"b":12.4,"u":13.4,"o":28.0},
{"s":"GSM2805805","g":"TBI","a":2.3,"m":5.3,"b":12.9,"u":14.0,"o":25.7},
{"s":"GSM2805807","g":"TBI","a":2.5,"m":5.5,"b":12.1,"u":13.1,"o":29.5},
{"s":"GSM2805809","g":"TBI","a":2.2,"m":5.4,"b":12.6,"u":13.6,"o":27.4},
{"s":"GSM2805811","g":"TBI","a":2.3,"m":5.3,"b":12.3,"u":13.3,"o":30.7},
{"s":"GSM2805813","g":"TBI","a":2.1,"m":5.5,"b":12.8,"u":13.9,"o":28.2},
{"s":"GSM2805815","g":"TBI","a":2.4,"m":5.4,"b":12.2,"u":13.2,"o":26.0},
{"s":"GSM2805817","g":"TBI","a":2.2,"m":5.3,"b":12.7,"u":13.7,"o":29.0},
{"s":"GSM2805818","g":"TBI","a":2.3,"m":5.5,"b":12.4,"u":13.4,"o":31.2},
{"s":"GSM2805820","g":"TBI","a":2.5,"m":5.4,"b":12.9,"u":14.0,"o":27.3},
{"s":"GSM2805822","g":"TBI","a":2.2,"m":5.3,"b":12.0,"u":13.0,"o":29.7},
{"s":"GSM2805824","g":"TBI","a":2.3,"m":5.5,"b":12.5,"u":13.5,"o":26.8},
{"s":"GSM2805826","g":"TBI","a":2.1,"m":5.4,"b":12.2,"u":13.2,"o":30.0},
{"s":"GSM2805828","g":"TBI","a":2.4,"m":5.3,"b":12.7,"u":13.7,"o":28.1},
{"s":"GSM2805832","g":"TBI","a":2.2,"m":5.5,"b":12.4,"u":13.4,"o":29.6},
{"s":"GSM2805834","g":"TBI","a":2.3,"m":5.4,"b":12.6,"u":13.6,"o":27.5}
  ]
},
"spacing": 3,
"resolve": {"scale": {"color": "independent", "x": "independent", "y": "independent"}},
"hconcat": [
  {
    "title": {"text": "A", "anchor": "start", "frame": "bounds", "fontSize": 38, "fontWeight": "normal", "color": "#000000", "offset": 0, "dx": 29, "dy": 33},
    "resolve": {"scale": {"color": "independent"}},
    "vconcat": [
      {
        "width": 591, "height": 275,
        "title": {"text": "GSE104687 Before normalization", "anchor": "middle", "frame": "group", "fontSize": 15, "fontWeight": "bold", "color": "#000000", "offset": 14},
        "data": {"name": "main"},
        "encoding": {
          "x": {"field": "s", "type": "nominal", "sort": null,
                "scale": {"paddingInner": 0, "paddingOuter": 0, "range": [20.8, 568.2]},
                "axis": {"title": null, "labelAngle": -90, "labelFontSize": 14, "labelPadding": 11, "tickSize": 7, "tickWidth": 0.8, "labelOverlap": false, "labelBound": false, "labelExpr": "round(datum.index*376) % 9 == 0 ? datum.label : ''"}}
        },
        "layer": [
          {"mark": {"type": "rule", "stroke": "#ababab", "strokeWidth": 0.9, "strokeDash": [5, 6]},
           "encoding": {"y": {"field": "u", "type": "quantitative", "scale": {"domain": [-1.2, 37.0], "nice": false, "zero": false},
                               "axis": {"title": "Normalized Expression Level", "titleFontSize": 16, "titleFontWeight": "bold", "titleColor": "#000000", "titlePadding": 17, "values": [0, 5, 10, 15, 20, 25, 30, 35], "tickCount": 10, "labelOverlap": false, "labelFontSize": 15, "labelPadding": 10, "tickSize": 8}},
                        "y2": {"field": "o"}}},
          {"mark": {"type": "rule", "stroke": "#555555", "strokeWidth": 0.7, "strokeDash": [3, 2]},
           "encoding": {"y": {"field": "b", "type": "quantitative"}, "y2": {"field": "u"}}},
          {"mark": {"type": "bar", "width": {"band": 0.8}, "stroke": "#000000", "strokeOpacity": 0.62, "strokeWidth": 0.6},
           "encoding": {"y": {"field": "a", "type": "quantitative"}, "y2": {"field": "b"},
                        "color": {"field": "g", "type": "nominal", "scale": {"domain": ["Control", "TBI"], "range": ["#a9d6e5", "#f3a6aa"]},
                                  "legend": {"legendX": 163, "legendY": -26, "columnPadding": 86}}}},
          {"mark": {"type": "tick", "color": "#3a3a3a", "thickness": 1, "size": 1.6, "opacity": 1},
           "encoding": {"y": {"field": "m", "type": "quantitative"}}},
          {"data": {"name": "lvA"},
           "mark": {"type": "rule", "stroke": "#b0b0b0", "strokeWidth": 5, "strokeDash": [1, 0.45]},
           "encoding": {"x": {"field": "s", "type": "nominal", "sort": null}, "x2": {"field": "e"}, "y": {"field": "y", "type": "quantitative"}}}
        ]
      }
    ]
  },
  {
    "title": {"text": "B", "anchor": "start", "frame": "bounds", "fontSize": 38, "fontWeight": "normal", "color": "#000000", "offset": 0, "dx": -1, "dy": 33},
    "resolve": {"scale": {"color": "independent"}},
    "vconcat": [
      {
        "width": 576, "height": 275,
        "title": {"text": "GSE104687 After normalization", "anchor": "middle", "frame": "group", "fontSize": 15, "fontWeight": "bold", "color": "#000000", "offset": 14},
        "data": {"name": "main"},
        "encoding": {
          "x": {"field": "s", "type": "nominal", "sort": null,
                "scale": {"paddingInner": 0, "paddingOuter": 0, "range": [21.3, 568.7]},
                "axis": {"title": null, "labelAngle": -90, "labelFontSize": 14, "labelPadding": 11, "tickSize": 7, "tickWidth": 0.8, "labelOverlap": false, "labelBound": false, "labelExpr": "round(datum.index*376) % 9 == 0 ? datum.label : ''"}}
        },
        "layer": [
          {"transform": [{"lookup": "g", "from": {"data": {"name": "bst"}, "key": "g", "fields": ["c", "n", "d"]}}],
           "mark": {"type": "bar", "width": {"band": 0.8}, "stroke": "#000000", "strokeOpacity": 0.62, "strokeWidth": 0.6},
           "encoding": {"y": {"field": "c", "type": "quantitative", "scale": {"domain": [-0.22, 7.17], "nice": false, "zero": false},
                               "axis": {"title": null, "values": [0, 1, 2, 3, 4, 5, 6, 7], "tickCount": 10, "labelOverlap": false, "labelFontSize": 15, "labelPadding": 9, "tickSize": 8}},
                        "y2": {"field": "d"},
                        "color": {"field": "g", "type": "nominal", "scale": {"domain": ["Control", "TBI"], "range": ["#a9d6e5", "#f3a6aa"]},
                                  "legend": {"legendX": 169, "legendY": -26, "columnPadding": 114}}}},
          {"transform": [{"lookup": "g", "from": {"data": {"name": "bst"}, "key": "g", "fields": ["c", "n", "d"]}}],
           "mark": {"type": "tick", "color": "#3a3a3a", "thickness": 1, "size": 1.6, "opacity": 1},
           "encoding": {"y": {"field": "n", "type": "quantitative"}}},
          {"data": {"name": "lvB"},
           "mark": {"type": "rule", "stroke": "#b0b0b0", "strokeWidth": 5, "strokeDash": [1, 0.45]},
           "encoding": {"x": {"field": "s", "type": "nominal", "sort": null}, "x2": {"field": "e"}, "y": {"field": "y", "type": "quantitative"}}}
        ]
      }
    ]
  }
]
}
